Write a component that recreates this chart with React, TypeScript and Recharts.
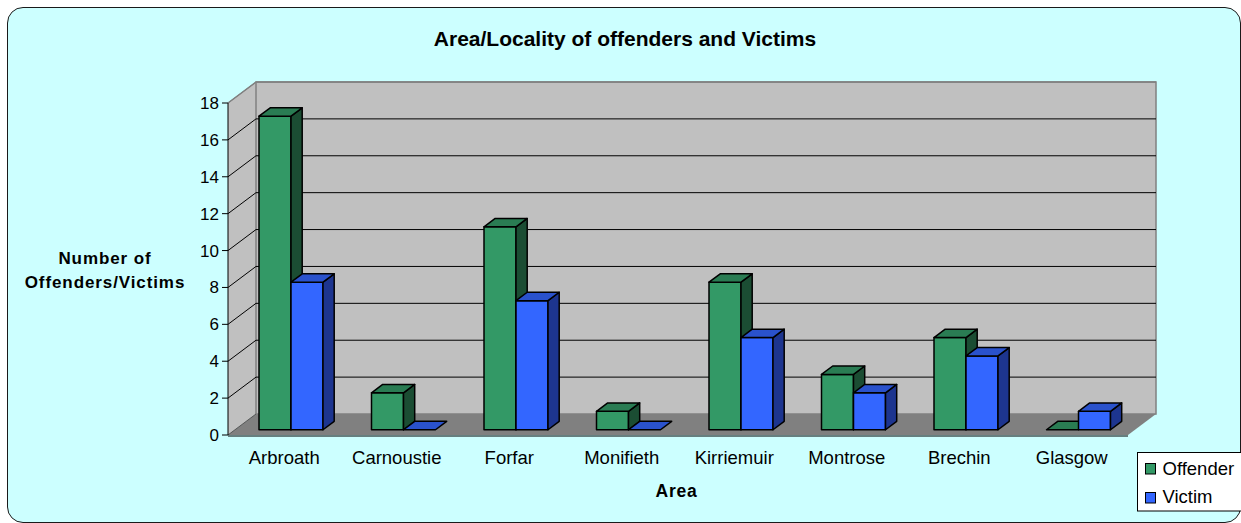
import React from 'react';
import { BarChart, Bar, XAxis, YAxis, CartesianGrid, ReferenceArea } from 'recharts';

const areas = ['Arbroath', 'Carnoustie', 'Forfar', 'Monifieth', 'Kirriemuir', 'Montrose', 'Brechin', 'Glasgow'];
const offenders = [17, 2, 11, 1, 8, 3, 5, 0];
const victims = [8, 0, 7, 0, 5, 2, 4, 1];
const yTicks = [0, 2, 4, 6, 8, 10, 12, 14, 16, 18];
const edgeTicks = [0, 1, 2, 3, 4, 5, 6, 7, 8];

const data = areas.map((area, i) => ({ area, Offender: offenders[i], Victim: victims[i] }));

const FONT = '"Liberation Sans", Arial, sans-serif';
// depth of the 3d box (oblique projection)
const DX = 28;
const DY = -21;

const GREEN = { front: '#339966', top: '#2a7c53', side: '#1b4d33' };
const BLUE = { front: '#3366ff', top: '#2a52cc', side: '#1d358f' };

const Box3D = (props: any) => {
  const { x, y, width, height, colors } = props;
  if (x == null || y == null) return null;
  const fx = x + DX * 0.25;
  const fy = y + DY * 0.25;
  const dx = DX * 0.4;
  const dy = DY * 0.4;
  const h = Math.max(0, height || 0);
  const w = width;
  const st = { stroke: '#000', strokeWidth: 1.5, strokeLinejoin: 'round' as const };
  return (
    <g>
      {h > 0.5 && <rect x={fx} y={fy} width={w} height={h} fill={colors.front} {...st} />}
      {h > 0.5 && (
        <polygon
          points={`${fx + w},${fy} ${fx + w + dx},${fy + dy} ${fx + w + dx},${fy + h + dy} ${fx + w},${fy + h}`}
          fill={colors.side}
          {...st}
        />
      )}
      <polygon
        points={`${fx},${fy} ${fx + dx},${fy + dy} ${fx + w + dx},${fy + dy} ${fx + w},${fy}`}
        fill={colors.top}
        {...st}
      />
    </g>
  );
};

const Walls = (props: any) => {
  const { x, y, width, height } = props;
  if (x == null) return null;
  const b = y + height;
  return (
    <g>
      <polygon points={`${x},${y} ${x + DX},${y + DY} ${x + DX},${b + DY} ${x},${b}`} fill="#c0c0c0" />
      <rect x={x + DX} y={y + DY} width={width} height={height} fill="#c0c0c0" stroke="#808080" strokeWidth={1.5} />
      <polygon
        points={`${x},${b} ${x + width},${b} ${x + width + DX},${b + DY} ${x + DX},${b + DY}`}
        fill="#808080"
      />
      <line x1={x} y1={y} x2={x + DX} y2={y + DY} stroke="#808080" strokeWidth={1.5} />
      <line x1={x} y1={b} x2={x + DX} y2={b + DY} stroke="#555" strokeWidth={1} />
    </g>
  );
};

const GridLine = (p: any) => {
  const { x1, x2, y1 } = p;
  const isTop = p.y != null && Math.abs(y1 - p.y) < 1;
  const col = isTop ? '#808080' : '#000';
  return (
    <g key={p.key}>
      <line x1={x1} y1={y1} x2={x1 + DX} y2={y1 + DY} stroke={col} strokeWidth={1} />
      <line x1={x1 + DX} y1={y1 + DY} x2={x2 + DX} y2={y1 + DY} stroke={col} strokeWidth={isTop ? 1.5 : 1} />
    </g>
  );
};

export default function App() {
  return (
    <div style={{ position: 'absolute', left: 0, top: 0, width: 1241, height: 523, overflow: 'hidden', fontFamily: FONT }}>
      <div
        style={{
          position: 'absolute',
          left: 7,
          top: 7,
          width: 1234,
          height: 516,
          boxSizing: 'border-box',
          border: '1.5px solid #1a1a1a',
          borderRadius: 16,
          background: '#ccffff',
        }}
      />
      <div style={{ position: 'absolute', left: 0, top: 0 }}>
        <BarChart
          width={1241}
          height={523}
          data={data}
          margin={{ top: 103, right: 113, bottom: 86, left: 168 }}
          barSize={32}
          barGap={0}
        >
          <ReferenceArea y1={0} y2={18} shape={<Walls />} zIndex={-200} isAnimationActive={false} />
          <CartesianGrid vertical={false} horizontalValues={yTicks.slice(1)} horizontal={(p: any) => <GridLine {...p} />} />
          <XAxis
            xAxisId="edges"
            type="number"
            domain={[0, 8]}
            ticks={edgeTicks}
            height={1}
            tick={false}
            tickSize={5}
            axisLine={{ stroke: '#000' }}
            tickLine={{ stroke: '#333' }}
          />
          <XAxis
            dataKey="area"
            height={1}
            axisLine={false}
            tickLine={false}
            tickSize={6}
            tickMargin={10}
            interval={0}
            tick={{ fill: '#000', fontSize: 18.5, fontFamily: FONT }}
          />
          <YAxis
            width={60}
            domain={[0, 18]}
            ticks={yTicks}
            interval={0}
            tickSize={6}
            tickMargin={3}
            axisLine={{ stroke: '#000' }}
            tickLine={{ stroke: '#000' }}
            tick={{ fill: '#000', fontSize: 17, fontFamily: FONT }}
          />
          <Bar dataKey="Offender" fill={GREEN.front} isAnimationActive={false} shape={(p: any) => <Box3D {...p} colors={GREEN} />} />
          <Bar dataKey="Victim" fill={BLUE.front} isAnimationActive={false} shape={(p: any) => <Box3D {...p} colors={BLUE} />} />
        </BarChart>
      </div>
      <svg width={1241} height={523} style={{ position: 'absolute', left: 0, top: 0, pointerEvents: 'none' }}>
        <text x={625} y={45.7} textAnchor="middle" fontSize={21} fontWeight="bold" fill="#000" fontFamily={FONT}>
          Area/Locality of offenders and Victims
        </text>
        <text x={105} y={264} textAnchor="middle" fontSize={17} fontWeight="bold" letterSpacing={0.9} fill="#000" fontFamily={FONT}>
          Number of
        </text>
        <text x={105} y={288} textAnchor="middle" fontSize={17} fontWeight="bold" letterSpacing={0.9} fill="#000" fontFamily={FONT}>
          Offenders/Victims
        </text>
        <text x={676.5} y={497} textAnchor="middle" fontSize={17.5} fontWeight="bold" letterSpacing={0.8} fill="#000" fontFamily={FONT}>
          Area
        </text>
        <rect x={1137.5} y={452.5} width={110} height={58.5} fill="#fff" stroke="#000" strokeWidth={1} />
        <rect x={1145.5} y={463.5} width={10} height={10.5} fill={GREEN.front} stroke="#000" strokeWidth={1} />
        <text x={1162.5} y={475} fontSize={18.5} fill="#000" fontFamily={FONT}>Offender</text>
        <rect x={1145.5} y={492.5} width={10} height={10.5} fill={BLUE.front} stroke="#000" strokeWidth={1} />
        <text x={1162.5} y={503} fontSize={18.5} fill="#000" fontFamily={FONT}>Victim</text>
      </svg>
    </div>
  );
}
